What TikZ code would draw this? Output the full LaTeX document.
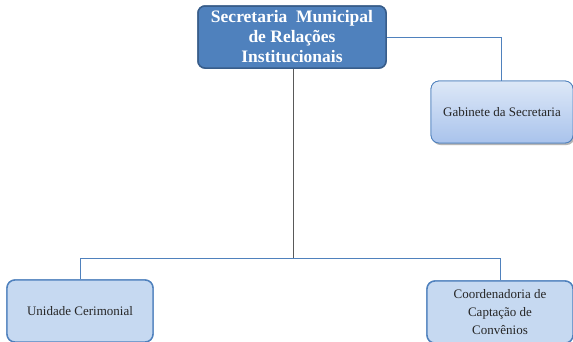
\documentclass[tikz,border=0pt]{standalone}
\usepackage{fontspec}
\setmainfont{Liberation Serif}
\usetikzlibrary{shadows}
\definecolor{topfill}{HTML}{4F81BD}
\definecolor{topdraw}{HTML}{385D8A}
\definecolor{lightfill}{HTML}{C6D9F1}
\definecolor{gradtop}{HTML}{DDE8F7}
\definecolor{gradbot}{HTML}{A9C3EC}
\definecolor{edgeblue}{HTML}{4F81BD}
\definecolor{txt}{HTML}{262626}
\begin{document}
\begin{tikzpicture}[x=1pt,y=-1pt,
  headbox/.style={draw=topdraw, line width=1.5pt, fill=topfill, rounded corners=7pt,
    minimum width=188pt, minimum height=62pt, text=white, align=center,
    font=\fontsize{17.5}{20}\selectfont\bfseries},
  unitbox/.style={draw=edgeblue, line width=1.4pt, fill=lightfill, rounded corners=8pt,
    minimum width=146pt, minimum height=62pt, text=txt, align=center,
    font=\fontsize{13}{18}\selectfont},
  gradbox/.style={unitbox, minimum width=142pt, line width=0.8pt, top color=gradtop, bottom color=gradbot,
    drop shadow={shadow xshift=1.5pt, shadow yshift=-2pt, opacity=0.35}},
  link/.style={draw=edgeblue, line width=0.7pt}]
\useasboundingbox (0,0) rectangle (573,341);
\clip (0,0) rectangle (573,341);

\coordinate (split) at (293,258);
\coordinate (hub) at (501,37);
\node[gradbox] (gab) at (502,112) {Gabinete da Secretaria};
\node[unitbox] (uni) at (80,311) {Unidade Cerimonial};
\node[unitbox] (coord) at (500,312) {Coordenadoria de\\Captação de\\Convênios};
\node[headbox] (sec) at (292,37) {Secretaria \ Municipal\\de Relações\\Institucionais};

% connectors
\draw[link] (sec.east) -- (hub) -- (gab.north -| hub);
\draw[draw=gray!70!black, line width=0.7pt] (sec.south -| split) -- (split);
\draw[link] (split) -| (uni.north);
\draw[link] (split) -| (coord.north);

% boxes drawn again over the line ends
\node[gradbox] at (gab) {Gabinete da Secretaria};
\node[unitbox] at (uni) {Unidade Cerimonial};
\node[unitbox] at (coord) {Coordenadoria de\\Captação de\\Convênios};
\node[headbox] at (sec) {Secretaria \ Municipal\\de Relações\\Institucionais};
\end{tikzpicture}
\end{document}
